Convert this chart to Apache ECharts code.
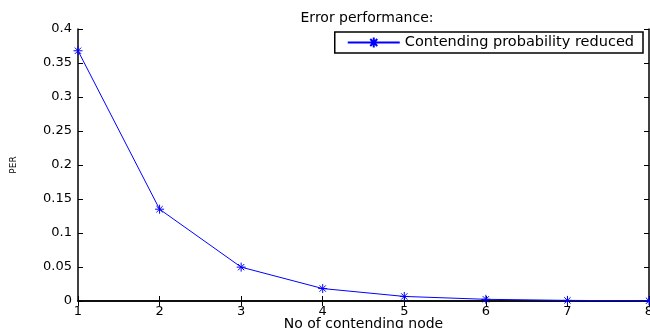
<!DOCTYPE html>
<html>
<head>
<meta charset="utf-8">
<script src="https://cdn.jsdelivr.net/npm/echarts@6/dist/echarts.min.js"></script>
<style>
  html, body { margin: 0; padding: 0; background: #fff; }
  #main { width: 650px; height: 328px; }
</style>
</head>
<body>
<div id="main"></div>
<script>
// data
var nodes = [1, 2, 3, 4, 5, 6, 7, 8];
var per = [0.368, 0.135, 0.0498, 0.0183, 0.0067, 0.0025, 0.0009, 0.0003];
var seriesName = 'Contending probability reduced';

var font = 'DejaVu Sans, Liberation Sans, sans-serif';
var star = 'path://M0,5L10,5M5,0L5,10M1.5,1.5L8.5,8.5M8.5,1.5L1.5,8.5';
// legend sample: line with the asterisk in the middle
var legendStar = 'path://M0,5L52,5M21,5L31,5M26,0L26,10M22.5,1.5L29.5,8.5M29.5,1.5L22.5,8.5';

var chart = echarts.init(document.getElementById('main'));

var tickIn = { show: true, inside: true, length: 5, lineStyle: { color: '#000' } };
var axLine = { show: true, lineStyle: { color: '#000', width: 1.5 } };

chart.setOption({
  animation: false,
  title: {
    text: 'Error performance:',
    left: 362, top: 6, textAlign: 'center',
    textStyle: { fontFamily: font, fontSize: 14, fontWeight: 'normal', color: '#000' }
  },
  legend: {
    right: 7, top: 32,
    padding: [3, 9, 3, 12],
    borderColor: '#000', borderWidth: 1.5,
    backgroundColor: '#fff',
    itemWidth: 52, itemHeight: 10, itemGap: 8,
    textStyle: { fontFamily: font, fontSize: 14.5, color: '#000' },
    data: [{ name: seriesName, icon: legendStar }]
  },
  grid: { left: 78, right: 1, top: 29, bottom: 27, outerBoundsMode: 'none', containLabel: false },
  xAxis: [{
    type: 'value', min: 1, max: 8, interval: 1,
    name: 'No of contending node', nameLocation: 'middle', nameGap: 16,
    nameMoveOverlap: false,
    nameTextStyle: { fontFamily: font, fontSize: 14, color: '#000' },
    axisLine: axLine, axisTick: tickIn,
    axisLabel: { fontFamily: font, fontSize: 13, color: '#000', margin: 4 },
    splitLine: { show: false }
  }, {
    type: 'value', min: 1, max: 8, interval: 1, position: 'top',
    axisLine: axLine, axisTick: tickIn,
    axisLabel: { show: false }, splitLine: { show: false }
  }],
  yAxis: [{
    type: 'value', min: 0, max: 0.4, interval: 0.05,
    name: 'PER', nameLocation: 'middle', nameGap: 60, nameRotate: 90,
    nameMoveOverlap: false,
    nameTextStyle: { fontFamily: font, fontSize: 9, color: '#000' },
    axisLine: axLine, axisTick: tickIn,
    axisLabel: { fontFamily: font, fontSize: 13, color: '#000', margin: 6 },
    splitLine: { show: false }
  }, {
    type: 'value', min: 0, max: 0.4, interval: 0.05, position: 'right',
    axisLine: axLine, axisTick: tickIn,
    axisLabel: { show: false }, splitLine: { show: false }
  }],
  series: [{
    name: seriesName,
    type: 'line',
    data: nodes.map(function (n, i) { return [n, per[i]]; }),
    symbol: star, symbolSize: 9,
    lineStyle: { color: '#0000ff', width: 1 },
    itemStyle: { color: '#0000ff', borderColor: '#0000ff', borderWidth: 1 },
    clip: false
  }]
});
</script>
</body>
</html>
